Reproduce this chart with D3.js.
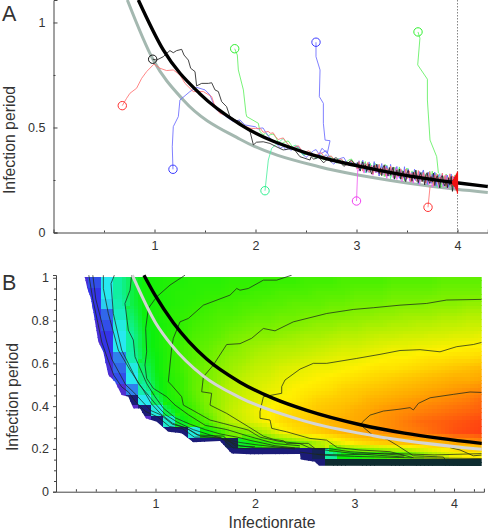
<!DOCTYPE html>
<html><head><meta charset="utf-8">
<style>html,body{margin:0;padding:0;background:#fff}svg{display:block}text{font-family:"Liberation Sans",Arial,sans-serif;fill:#333}</style>
<script src="https://cdn.jsdelivr.net/npm/d3@7"></script></head><body>
<svg id="c" width="488" height="531"></svg>
<script>
// ---------- Panel A data ----------
const aTicksX=[1,2,3,4], aMinorX=[0.5,1.5,2.5,3.5], aTicksY=[0,0.5,1], aMinorY=[0.25,0.75];
const aBlackX=[0.84,1.087,1.45,1.847,2.507,3,3.5,3.99,4.3];
const aBlackY=[1.107,0.869,0.66,0.515,0.378,0.318,0.271,0.237,0.219];
const aGrayX=[0.731,0.988,1.285,1.847,2.639,3,3.5,3.99,4.3];
const aGrayY=[1.107,0.821,0.631,0.444,0.312,0.275,0.236,0.206,0.191];
const red1X=[.681,.724,.757,.823,.873,.922,.995,1.054,1.12,1.186,1.252,1.302,1.384,1.483,1.566,1.599,1.648,1.747,1.83,1.946];
const red1Y=[.604,.639,.663,.687,.734,.766,.802,.782,.771,.774,.75,.71,.671,.671,.647,.599,.567,.552,.52,.496];
const blue1X=[1.183,1.176,1.186,1.236,1.252,1.351,1.417,1.5,1.549,1.582,1.615,1.731,1.78,1.846,1.896];
const blue1Y=[.301,.408,.504,.552,.631,.671,.691,.679,.655,.615,.583,.544,.528,.536,.512];
const blackX=[.982,1.021,1.054,1.087,1.12,1.153,1.186,1.219,1.269,1.292,1.335,1.358,1.401,1.417,1.467,1.533,1.566,1.599,1.632,1.665,1.714,1.747,1.797,1.846,1.896,1.946,1.979,2.01,2.077,2.143,2.2,2.274,2.374,2.44,2.54];
const blackY=[.825,.821,.829,.837,.853,.866,.856,.866,.872,.845,.821,.782,.766,.698,.71,.71,.713,.679,.671,.623,.599,.552,.536,.528,.504,.48,.417,.43,.432,.424,.41,.393,.401,.361,.345];
const green1X=[1.794,1.82,1.83,1.88,1.906,1.913,2.028,2.045];
const green1Y=[.875,.845,.774,.679,.567,.552,.52,.48];
const tealX=[2.094,2.127,2.16,2.276], tealY=[.199,.345,.401,.448];
const blue2X=[2.599,2.599,2.639,2.632,2.672,2.672,2.689,2.738,2.711,2.658,2.625,2.7,2.75];
const blue2Y=[.906,.837,.774,.647,.615,.52,.44,.437,.377,.401,.369,.39,.345];
const magentaX=[3,3.012], magentaY=[.15,.298];
const green2X=[3.609,3.628,3.606,3.702,3.702,3.728,3.794,3.811], green2Y=[.955,.925,.798,.73,.631,.44,.361,.282];
const red2X=[3.708,3.728], red2Y=[.12,.218];
// band offsets from the black curve, in thousandths; left part every .025 from x=2, right part every .0125 from x=3
const leftRed=[12,18,22,10,16,24,20,28,14,6,16,24,12,4,-8,-2,10,18,6,-4,4,14,8,-6,2,12,20,6,-2,10,16,4,-8,6,14,2,-10,8,16,4];
const leftBlue=[20,14,24,30,16,4,-6,-18,-10,-24,-30,-16,-28,-12,-20,-4,8,14,2,-14,-22,-8,6,20,28,12,-6,4,16,2,-12,-20,-4,10,18,24,6,-8,12,-4];
const leftGreen=[8,16,6,-2,10,4,14,22,12,-4,-12,2,12,20,8,-6,2,10,-4,-14,-6,6,0,-10,-2,8,-4,-12,2,14,8,-6,4,12,-2,-10,6,18,26,10];
const leftTeal=[10,2,-6,6,16,4,-10,-18,-6,4,12,-2,-14,-6,8,2,-8,6,14,0,-12,-4,10,4,-8,4,12,-2];
const leftBlack=[-12,-20,-14,-4,-16,-26,-10,-2,-14,6,14,2,-8,-18,-6,8,20,10];
const rightRed=[6,-14,22,-8,12,-20,4,18,-6,26,-16,2,14,-24,8,20,-10,-2,28,-18,10,-6,24,-22,16,0,-12,30,-8,18,-26,6,22,-14,4,26,-20,12,-4,30,-16,8,24,-28,14,-6,20,2,-22,32,-10,16,-18,26,4,-24,18,-8,34,-14,10,-30,22,0,28,-20,14,-6,36,-16,26,-26,18,4,38,-22,30,-12,24,-28];
const rightGreen=[-10,16,4,-18,24,-6,12,28,-14,6,-22,20,2,-8,30,-16,10,26,-4,-20,18,8,-26,32,-12,14,-2,24,-18,6,28,-24,12,-8,34,-14,22,0,-28,18,36,-10,8,-20,26,-4,30,-16,12,-30,24,6,-12,34,-22,16,2,-18,28,-8,38,-24,10,32,-14,20,-2,-32,26,12,-18,34,-6,22,-26,30,8,-20,36,-10];
const rightBlue=[14,-6,26,-18,8,32,-12,20,-24,4,30,-8,16,-20,36,2,-14,24,-28,10,34,-4,18,-22,28,6,-16,38,-10,22,-30,12,34,-2,-20,26,8,-14,40,-24,16,30,-6,-26,20,4,36,-18,10,-32,28,-8,22,38,-12,2,-28,30,14,-20,24,-4,36,-30,12,26,-16,6,34,-22,20,-8,30,-26,14,38,-12,24,-18,8];
const rightMagenta=[-16,10,-24,2,18,-12,-28,6,-8,22,-20,-4,14,-30,8,-16,24,-10,-26,4,16,-18,-6,26,-32,12,-14,0,20,-24,-6,28,-28,10,-12,18,-34,2,24,-20,-8,30,-26,14,-4,-32,20,6,-18,26,-36,12,-10,32,-24,-2,22,-30,8,18,-38,-6,28,-22,14,-34,4,24,-16,-28,12,30,-36,-8,20,-24,6,28,-30,16];
const rightBlack=[4,16,-10,-22,8,24,-4,12,-18,2,20,-12,-26,6,18,-8,26,-2,-16,10,-24,14,30,-6,4,-20,22,-14,8,28,-28,0,16,-10,24,-22,6,18,-16,-30,12,26,-8,2,-24,20,-12,32,-4,-26,10,24,-18,4,-32,16,28,-6,-22,12,-14,30,-28,8,20,-4,-36,14,24,-10,-24,6,-30,18,-16,26,-44,4,-20,12];
const rightTeal=[8,-12,20,-20,2,14,-6,-26,18,10,-16,24,-2,-22,12,28,-10,4,-28,16,22,-14,6,-24,30,-4,10,-30,20,2,-18,26,-12,8,32,-26,14,-6,24,-20,4,34,-14,-28,18,10,-8,30,-24,16,-34,6,26,-16,0,22,-30,12,36,-10,-22,28,4,-18,-36,14,32,-8,-26,20,2,-32,26,10,-16,34,-24,6,18,-12];
const clumpX=[3.95,3.955,3.96,3.965,3.97,3.975,3.98,3.98,3.985,3.985,3.99,3.99,3.995,3.995,4,4,3.995,4,3.99,4];
const clumpY=[.245,.225,.255,.22,.265,.215,.27,.21,.275,.205,.28,.2,.285,.195,.29,.19,.285,.185,.275,.21];
const trajectories=[
 {c:"#50f0a0",m:"#30f090",x:tealX,y:tealY,ls:12,l:leftTeal,r:rightTeal},
 {c:"#60f060",m:"#30f030",x:green1X,y:green1Y,ls:2,l:leftGreen.slice(2),r:rightGreen},
 {c:"#60f060",m:"#30f030",x:green2X,y:green2Y,l:[],r:[]},
 {c:"#f060f0",m:"#f040f0",x:magentaX,y:magentaY,l:[],r:rightMagenta},
 {c:"#6a6aff",m:"#3a3aff",x:blue2X,y:blue2Y,l:[],r:[]},
 {c:"#6a6aff",m:"#3a3aff",x:blue1X,y:blue1Y,ls:0,l:leftBlue,r:rightBlue},
 {c:"#ff7070",m:"#ff3030",x:red2X,y:red2Y,l:[],r:[]},
 {c:"#ff7070",m:"#ff3030",x:red1X,y:red1Y,ls:0,l:leftRed,r:rightRed},
 {c:"#222222",m:"#111111",x:blackX,y:blackY,ls:22,l:leftBlack,r:rightBlack}
];
// ---------- Panel B data ----------
const bTicksX=[1,2,3,4], bMinorX=[.2,.4,.6,.8,1.2,1.4,1.6,1.8,2.2,2.4,2.6,2.8,3.2,3.4,3.6,3.8,4.2];
const bTicksY=[0,.2,.4,.6,.8,1], bMinorY=[.05,.1,.15,.25,.3,.35,.45,.5,.55,.65,.7,.75,.85,.9,.95];
const colEdge0=.2, colStep=.125, rowEdge0=.103, rowStep=.05;
const heatRows=[ // bottom row first
[0,0,0,0,0,0,0,0,0,0,0,0,0,0,0,0,0,0,-1,-1,-2,-2,-2,-2,-2,-2,-2,-2,-2,-2,-2,-2,-2],
[0,0,0,0,0,0,0,0,0,0,0,0,-1,-1,-1,-1,-1,-1,-1,-1.5,32,42,44,46,48,50,52,56,60,64,68,70,70],
[0,0,0,0,0,0,0,0,0,-1,-1,-1,-1.5,40,44,48,50,52,56,60,64,68,72,74,76,77,78,79,80,80,82,82,84],
[0,0,0,0,0,0,0,-1,-1,24,42,48,54,55,58,62,68,72,74,76,78,80,82,83,85,86,87,88,90,92,94,95,96],
[0,0,0,0,0,0,-1,26,40,46,50,57,61,64,67,70,73,75,76,78,80,81,82,83,85,86,88,90,91,92,93,94,95],
[0,0,0,0,0,-1,24,38,45,49,54,58,62,65,68,70,72,74,75,77,78,79,81,82,84,85,86,87,88,89,90,91,92],
[0,0,0,0,-1,22,36,44,47,51,55,58,61,64,66,68,70,71,73,75,76,77,78,80,81,82,83,84,85,86,87,88,90],
[0,0,0,2,14,30,40,45,48,52,55,58,61,63,65,67,68,70,71,72,73,75,76,77,78,79,80,81,82,83,84,85,86],
[0,0,2,10,22,34,41,45,48,52,54,57,60,62,64,65,67,68,69,70,71,72,73,74,75,76,77,78,79,80,81,81,82],
[0,0,4,12,24,36,42,46,49,52,54,56,58,60,62,63,65,66,67,68,68,69,70,71,72,72,73,74,75,76,77,78,79],
[0,0,6,14,30,39,42,46,49,51,53,55,57,58,60,61,62,63,64,65,66,67,67,68,69,70,70,71,72,72,73,73,74],
[0,2,8,22,32,40,43,46,49,51,52,54,55,57,58,59,60,60,61,62,63,64,64,65,66,67,67,68,68,69,69,70,70],
[0,4,8,22,32,40,43,46,48,50,51,52,54,55,56,56,57,58,59,59,60,61,61,62,63,63,64,64,65,65,66,66,67],
[0,4,10,24,34,41,43,45,47,49,50,51,52,53,54,54,55,55,56,57,57,58,58,59,59,60,60,61,61,62,62,63,63],
[0,8,12,28,36,42,44,46,47,48,49,50,50,51,52,52,53,53,54,54,55,55,56,56,57,57,58,58,58,59,59,60,60],
[4,8,20,30,38,42,44,45,46,47,48,49,49,50,50,51,51,52,52,52,53,53,54,54,54,55,55,55,56,56,56,57,57],
[4,8,22,32,38,43,44,45,46,46,47,47,48,48,49,49,50,50,50,51,51,51,52,52,52,53,53,53,53,54,54,54,54],
[4,10,22,32,38,43,44,45,45,46,46,46,47,47,47,48,48,48,49,49,49,50,50,50,50,51,51,51,51,52,52,52,52]
];
const heatDomain=[-2,-1,0,8,22,32,42,48,60,70,82,95];
const heatColors=["#0e2c30","#1b1b78","#5a2cc8","#3434e8","#28e8f0","#10f0a0","#0cf00c","#38f000","#b0f000","#fff000","#ffa800","#ff4810"];
const edgeX=[.284,.315,.349,.375,.425,.475,.526,.593,.66,.727,.777,.844,.902,1.012,1.129,1.263,1.38,1.648,1.766,1.95,2.452,2.459,2.603,2.643,4.278,4.278];
const edgeY=[1.013,.95,.905,.841,.701,.654,.545,.514,.452,.444,.39,.39,.343,.327,.28,.273,.231,.237,.179,.175,.176,.151,.14,.121,.12,1.013];
const bBlackX=[.884,1,1.179,1.514,1.849,2.184,2.52,3.06,3.5,4.278];
const bBlackY=[1.012,.915,.79,.62,.512,.436,.38,.313,.274,.226];
const bGrayX=[.767,1,1.162,1.481,1.849,2.5,3.189,4.278];
const bGrayY=[1.012,.79,.685,.54,.44,.33,.262,.198];
const contours=[
 [[4.278,.464],[4.161,.466],[3.993,.455],[3.759,.439],[3.642,.413],[3.591,.382],[3.558,.393],[3.457,.386],[3.29,.377],[3.156,.358],[3.082,.327],[3.062,.312],[3.189,.262],[3.323,.246],[3.424,.218],[3.591,.168],[3.893,.162],[3.933,.137]],
 [[4.278,.171],[4.194,.168],[4.06,.195],[3.96,.206]],
 [[4.278,.698],[4.194,.688],[4.027,.678],[3.859,.654],[3.658,.664],[3.457,.66],[3.256,.642],[3.022,.623],[2.72,.6],[2.586,.6],[2.452,.573],[2.301,.522],[2.268,.491],[2.268,.46],[2.084,.444],[2.05,.374],[2.05,.343],[2.151,.335],[2.168,.296],[2.318,.28],[2.553,.249],[2.72,.241],[2.827,.206],[3.055,.195],[3.356,.187],[3.591,.159]],
 [[4.278,.899],[3.926,.896],[3.725,.88],[3.457,.872],[3.189,.86],[2.988,.852],[2.72,.833],[2.385,.794],[2.201,.752],[2.084,.763],[1.966,.717],[1.849,.692],[1.715,.688],[1.581,.592],[1.481,.537],[1.464,.467],[1.564,.46],[1.548,.405],[1.715,.366],[1.933,.304],[2.084,.26],[2.184,.245],[2.285,.238],[2.318,.226],[2.536,.226],[2.603,.202],[2.737,.202],[2.955,.187],[3.5,.17]],
 [[2.368,1.012],[2.218,.989],[2.084,.989],[1.933,.95],[1.849,.942],[1.816,.95],[1.749,.919],[1.481,.872],[1.33,.81],[1.246,.794],[1.179,.717],[1.162,.67],[1.129,.514],[1.162,.498],[1.263,.444],[1.28,.405],[1.43,.366],[1.548,.335],[1.682,.319],[1.933,.288],[2.05,.255],[2.25,.235],[2.45,.225],[2.55,.205],[2.75,.192],[3,.178],[3.5,.162]],
 [[1.296,1.012],[1.146,.966],[1.012,.911],[.928,.857],[.901,.763],[.911,.654],[.894,.592],[.911,.53],[.978,.483],[1.112,.444],[1.196,.405],[1.33,.36],[1.5,.31],[1.72,.29],[1.93,.26],[2.2,.225],[2.45,.215]],
 [[.76,1.012],[.744,.942],[.693,.88],[.727,.755],[.777,.709],[.794,.631],[.911,.506],[.995,.444],[1.08,.39],[1.2,.345],[1.35,.315],[1.5,.29],[1.65,.27],[1.82,.255],[1.95,.24],[2.2,.215],[2.4,.205]],
 [[.586,1.012],[.553,.973],[.576,.833],[.66,.662],[.827,.506],[.911,.46],[1,.41],[1.1,.36],[1.22,.325],[1.38,.29],[1.55,.265],[1.7,.245],[1.85,.23],[2,.22],[2.4,.2]],
 [[.476,1.012],[.476,.95],[.526,.833],[.626,.662],[.744,.569],[.878,.475],[.96,.41],[1.05,.365],[1.17,.32],[1.32,.295],[1.45,.26],[1.65,.25],[1.85,.215],[2,.205],[2.45,.205]],
 [[.37,1.012],[.4,.9],[.46,.79],[.51,.7],[.56,.62],[.63,.56],[.7,.5],[.78,.465],[.86,.425],[.95,.38],[1.05,.36],[1.17,.315],[1.3,.3],[1.42,.265],[1.68,.26],[1.8,.215],[2,.21]],
 [[.33,1.012],[.37,.9],[.42,.79],[.46,.7],[.52,.62],[.58,.545],[.66,.49],[.73,.465],[.8,.42],[.9,.375],[1.02,.35],[1.14,.305],[1.27,.295],[1.39,.255],[1.65,.255],[1.78,.205],[1.95,.2]],
 [[2.45,.185],[2.7,.17],[3,.165],[3.6,.158],[4.278,.155]],
 [[2.62,.175],[2.9,.172],[3.3,.18],[3.8,.172],[4.278,.178]]
];
// ---------- Drawing ----------
const svg=d3.select("#c");
svg.append("rect").attr("width",488).attr("height",531).attr("fill","#fff");
const zip=(a,b)=>a.map((v,i)=>[v,b[i]]);

// Panel A
const ax=d3.scaleLinear().domain([0,4.3]).range([53.5,487.8]);
const ay=d3.scaleLinear().domain([0,1.107]).range([232.5,0]);
const aLine=d3.line().x(d=>ax(d[0])).y(d=>ay(d[1]));
const aSmooth=d3.line().x(d=>ax(d[0])).y(d=>ay(d[1])).curve(d3.curveMonotoneX);
const curveAt=d3.scaleLinear().domain(aBlackX).range(aBlackY);
const leftAt=(i,o)=>{const x=2+.025*i;return [x,curveAt(x)+o/1000];};
const rightAt=(i,o)=>{const x=3+.0125*i;return [x,curveAt(x)+o/1000];};
const A=svg.append("g");
A.append("line").attr("x1",ax(4)).attr("x2",ax(4)).attr("y1",0).attr("y2",ay(0)).attr("stroke","#666").attr("stroke-width",.8).attr("stroke-dasharray","1.5,1.5");
A.append("path").attr("d",aSmooth(zip(aGrayX,aGrayY))).attr("fill","none").attr("stroke","#a4b8b0").attr("stroke-width",3);
trajectories.forEach(t=>{
  const pts=zip(t.x,t.y).concat(t.l.map((o,i)=>leftAt((t.ls||0)+i,o))).concat(t.r.map((o,i)=>rightAt(i,o)));
  A.append("path").attr("d",aLine(pts)).attr("fill","none").attr("stroke",t.c).attr("stroke-width",.85);
  A.append("circle").attr("cx",ax(t.x[0])).attr("cy",ay(t.y[0])).attr("r",4.2).attr("fill","none").attr("stroke",t.m).attr("stroke-width",1);
});
A.append("path").attr("d",aSmooth(zip(aBlackX,aBlackY))).attr("fill","none").attr("stroke","#000").attr("stroke-width",3.4);
A.append("path").attr("d",aLine(zip(clumpX,clumpY))).attr("fill","none").attr("stroke","#f01010").attr("stroke-width",1.2);
function styleAxis(g){g.select(".domain").attr("stroke","#444").attr("stroke-width",1);g.selectAll(".tick line").attr("stroke","#444");g.selectAll("text").attr("font-size",12.5).style("fill","#333");}
const axB=A.append("g").attr("transform",`translate(0,${ay(0)})`).call(d3.axisBottom(ax).tickValues(aTicksX).tickSize(-3).tickPadding(6).tickFormat(d3.format("d")));
styleAxis(axB);axB.selectAll("text").attr("dy","0.9em");
A.append("g").attr("transform",`translate(0,${ay(0)})`).call(d3.axisBottom(ax).tickValues(aMinorX).tickSize(-2).tickFormat("")).call(g=>{styleAxis(g);g.select(".domain").remove();});
const ayL=A.append("g").attr("transform",`translate(${ax(0)},0)`).call(d3.axisLeft(ay).tickValues(aTicksY).tickSize(-4).tickPadding(8).tickFormat(d=>d));
styleAxis(ayL);
A.append("g").attr("transform",`translate(${ax(0)},0)`).call(d3.axisLeft(ay).tickValues(aMinorY).tickSize(-2).tickFormat("")).call(g=>{styleAxis(g);g.select(".domain").remove();});
A.append("text").attr("transform","translate(14.5,140) rotate(-90)").attr("text-anchor","middle").attr("font-size",15.8).text("Infection period");
A.append("text").attr("x",2).attr("y",20.5).attr("font-size",21.5).text("A");

// Panel B
const bx=d3.scaleLinear().domain([0,4.3]).range([56,483.9]);
const by=d3.scaleLinear().domain([0,1.013]).range([491.7,275]);
const bSmooth=d3.line().x(d=>bx(d[0])).y(d=>by(d[1])).curve(d3.curveMonotoneX);
const bLine=d3.line().x(d=>bx(d[0])).y(d=>by(d[1]));
const heatColor=d3.scaleLinear().domain(heatDomain).range(heatColors);
svg.append("clipPath").attr("id","edge").append("path").attr("d",bLine(zip(edgeX,edgeY))+"Z");
const B=svg.append("g");
const H=B.append("g").attr("clip-path","url(#edge)").attr("shape-rendering","crispEdges");
const nSub=3, nR=heatRows.length, nC=heatRows[0].length;
const val=(r,c)=>heatRows[Math.max(0,Math.min(nR-1,r))][Math.max(0,Math.min(nC-1,c))];
function sample(r,c,fx,fy){
  const c0=fx<.5?c-1:c, r0=fy<.5?r-1:r;
  const tx=fx<.5?fx+.5:fx-.5, ty=fy<.5?fy+.5:fy-.5;
  const a=val(r0,c0),b=val(r0,c0+1),d=val(r0+1,c0),e=val(r0+1,c0+1);
  if(Math.min(a,b,d,e)<30) return val(r,c);
  return (a*(1-tx)+b*tx)*(1-ty)+(d*(1-tx)+e*tx)*ty;
}
const cells=[];
heatRows.forEach((row,r)=>row.forEach((v,c)=>{
  for(let i=0;i<nSub;i++)for(let j=0;j<nSub;j++){
    cells.push({x0:colEdge0+colStep*(c+i/nSub),x1:colEdge0+colStep*(c+(i+1)/nSub),y0:rowEdge0+rowStep*(r+j/nSub),y1:rowEdge0+rowStep*(r+(j+1)/nSub),v:sample(r,c,(i+.5)/nSub,(j+.5)/nSub)});
  }
}));
H.selectAll("rect").data(cells).join("rect")
 .attr("x",d=>bx(d.x0)).attr("width",d=>bx(d.x1)-bx(d.x0)+.6)
 .attr("y",d=>by(d.y1)-.6).attr("height",d=>by(d.y0)-by(d.y1)+.6)
 .attr("fill",d=>heatColor(d.v));
const CL=B.append("g").attr("clip-path","url(#edge)");
contours.forEach(c=>CL.append("path").attr("d",bLine(c)).attr("fill","none").attr("stroke","#1c2a1c").attr("stroke-width",.75));
B.append("path").attr("d",bSmooth(zip(bGrayX,bGrayY))).attr("fill","none").attr("stroke","#d4d4d4").attr("stroke-width",3);
B.append("path").attr("d",bSmooth(zip(bBlackX,bBlackY))).attr("fill","none").attr("stroke","#000").attr("stroke-width",3.4);
const bxA=B.append("g").attr("transform",`translate(0,${by(0)})`).call(d3.axisBottom(bx).tickValues(bTicksX).tickSize(-3).tickPadding(6).tickFormat(d3.format("d")));
styleAxis(bxA);bxA.selectAll("text").attr("dy","0.85em");
B.append("g").attr("transform",`translate(0,${by(0)})`).call(d3.axisBottom(bx).tickValues(bMinorX).tickSize(-2.5).tickFormat("")).call(g=>{styleAxis(g);g.select(".domain").remove();});
const byA=B.append("g").attr("transform",`translate(${bx(0)},0)`).call(d3.axisLeft(by).tickValues(bTicksY).tickSize(3).tickPadding(4).tickFormat(d=>d));
styleAxis(byA);
B.append("g").attr("transform",`translate(${bx(0)},0)`).call(d3.axisLeft(by).tickValues(bMinorY).tickSize(2).tickFormat("")).call(g=>{styleAxis(g);g.select(".domain").remove();});
B.append("text").attr("transform","translate(17.5,397) rotate(-90)").attr("text-anchor","middle").attr("font-size",15.8).text("Infection period");
B.append("text").attr("x",272).attr("y",528).attr("text-anchor","middle").attr("font-size",15.8).text("Infectionrate");
B.append("text").attr("x",2).attr("y",290).attr("font-size",21.5).text("B");
</script></body></html>
